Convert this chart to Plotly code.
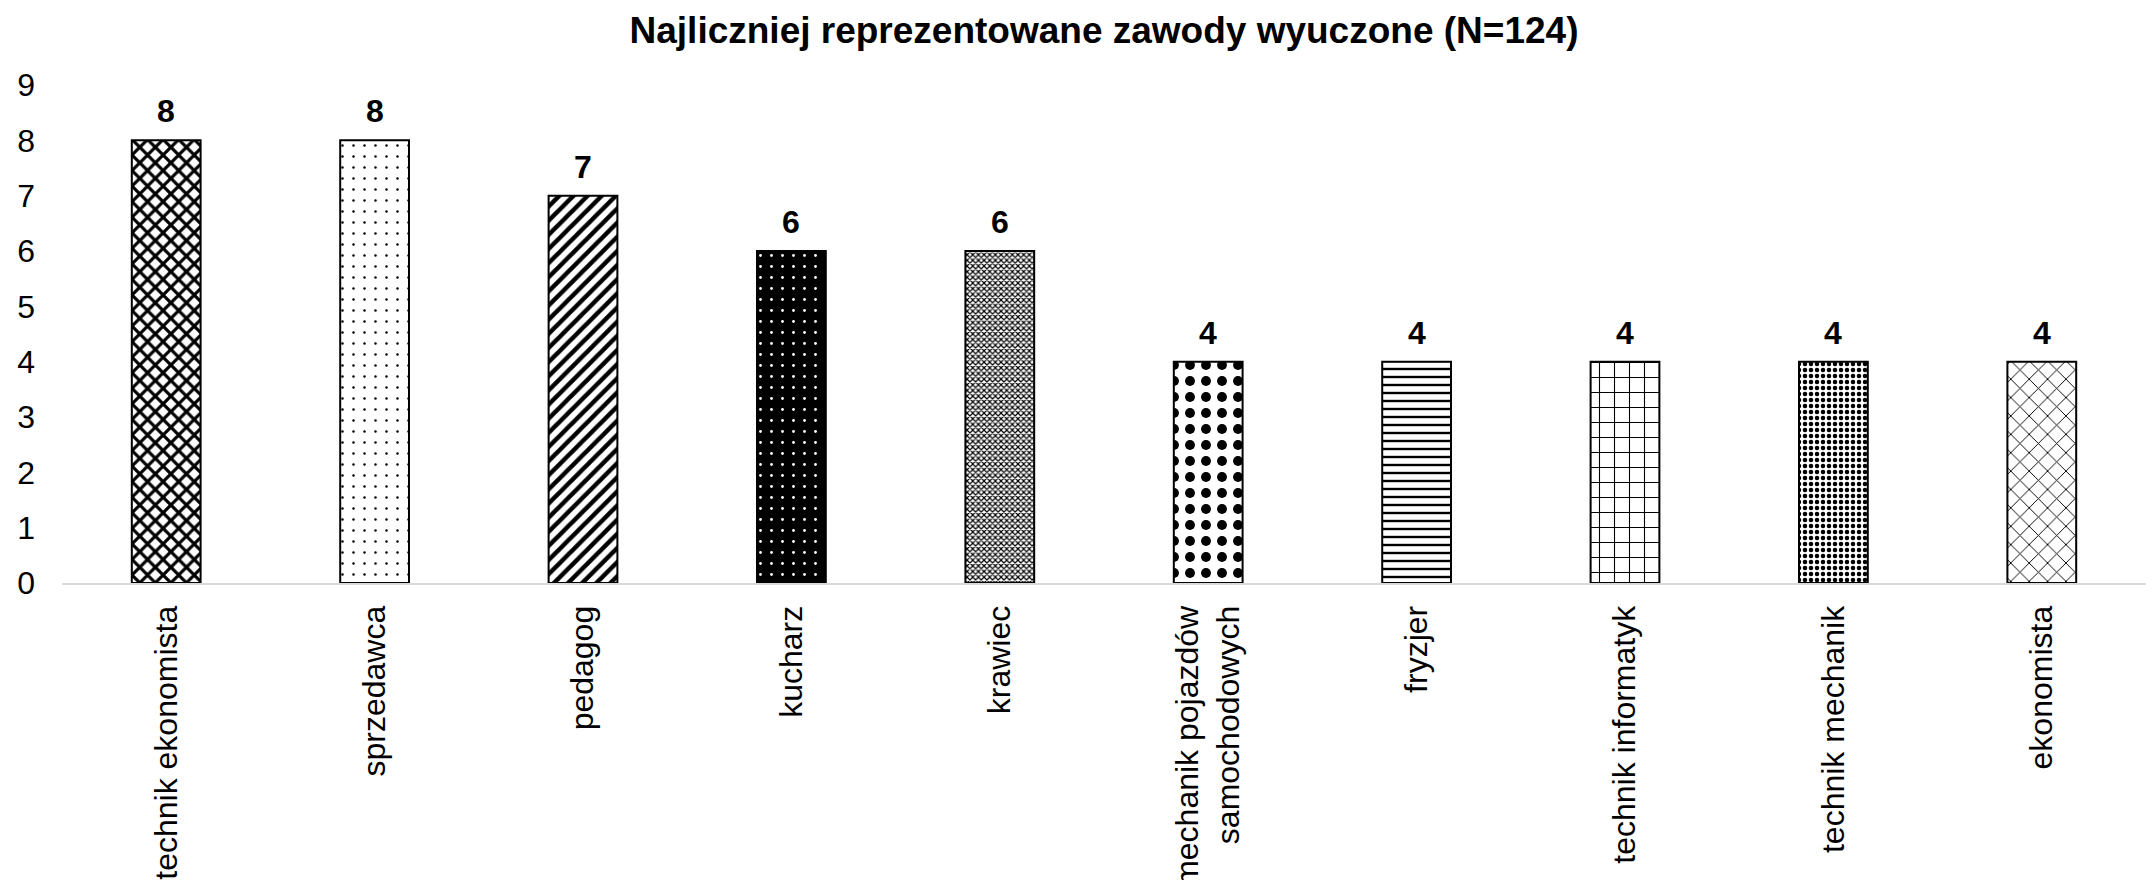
import plotly.graph_objects as go

categories = ["technik ekonomista", "sprzedawca", "pedagog", "kucharz", "krawiec",
              "mechanik pojazdów<br>samochodowych", "fryzjer", "technik informatyk",
              "technik mechanik", "ekonomista"]
values = [8, 8, 7, 6, 6, 4, 4, 4, 4, 4]
y_ticks = [0, 1, 2, 3, 4, 5, 6, 7, 8, 9]

# pattern styles per bar: (shape, fg, bg, size, solidity)
patterns = [
    ("x", "black", "white", 11, 0.5),
    (".", "black", "white", 11, 0.04),
    ("/", "black", "white", 10, 0.45),
    (".", "white", "black", 11, 0.05),
    ("x", "black", "white", 4, 0.5),
    (".", "black", "white", 16, 0.3),
    ("-", "black", "white", 8, 0.3),
    ("+", "black", "white", 15, 0.14),
    (".", "black", "white", 6, 0.45),
    ("x", "black", "white", 13, 0.14),
]

FONT = "Arial, 'Liberation Sans', sans-serif"

fig = go.Figure()
for c, v, p in zip(categories, values, patterns):
    shape, fg, bg, size, sol = p
    fig.add_trace(go.Bar(
        x=[c], y=[v],
        marker=dict(
            color=bg,
            line=dict(color="black", width=2),
            pattern=dict(shape=shape, fgcolor=fg, bgcolor=bg, size=size,
                         solidity=sol, fillmode="replace"),
        ),
        hoverinfo="skip",
    ))

for c, v in zip(categories, values):
    fig.add_annotation(x=c, y=v, text=f"<b>{v}</b>", showarrow=False,
                       yanchor="bottom", yshift=9,
                       font=dict(family=FONT, size=32, color="black"))

fig.update_layout(
    width=2148, height=872,
    margin=dict(l=54, r=10, t=77, b=297),
    paper_bgcolor="white", plot_bgcolor="white",
    showlegend=False,
    barmode="overlay",
    bargap=0.67,
    title=dict(text="<b>Najliczniej reprezentowane zawody wyuczone (N=124)</b>",
               x=0.5, xref="paper", xanchor="center",
               y=1 - 22 / 872, yref="container", yanchor="middle",
               font=dict(family=FONT, size=37, color="black")),
    font=dict(family=FONT, size=32, color="black"),
)
fig.update_xaxes(
    showline=True, linecolor="#d9d9d9", linewidth=2,
    tickangle=-90, showgrid=False, ticks="",
    tickfont=dict(family=FONT, size=32, color="black"),
    ticklabelstandoff=8, automargin=False,
)
fig.update_yaxes(
    range=[0, 9], tickvals=y_ticks, showgrid=False, zeroline=False,
    showline=False, ticks="",
    tickfont=dict(family=FONT, size=32, color="black"),
    ticklabelstandoff=26, automargin=False,
)

fig.write_html("out.html")
